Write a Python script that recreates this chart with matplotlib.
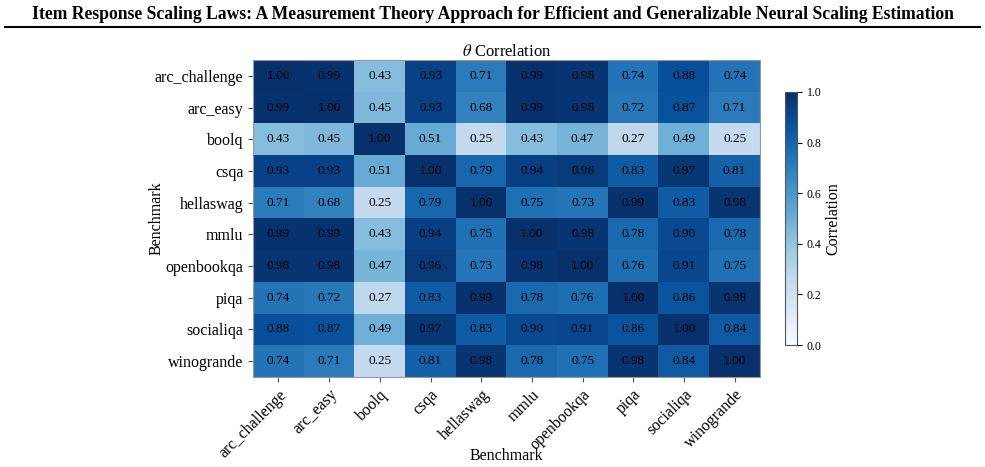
import numpy as np
import matplotlib
matplotlib.use("Agg")
import matplotlib.pyplot as plt
from matplotlib.lines import Line2D

plt.rcParams['font.family'] = ['Liberation Serif', 'DejaVu Serif']
plt.rcParams['mathtext.fontset'] = 'stix'

benchmarks = ["arc_challenge", "arc_easy", "boolq", "csqa", "hellaswag",
              "mmlu", "openbookqa", "piqa", "socialiqa", "winogrande"]

r_arc_challenge = [1.00, 0.99, 0.43, 0.93, 0.71, 0.99, 0.98, 0.74, 0.88, 0.74]
r_arc_easy      = [0.99, 1.00, 0.45, 0.93, 0.68, 0.99, 0.98, 0.72, 0.87, 0.71]
r_boolq         = [0.43, 0.45, 1.00, 0.51, 0.25, 0.43, 0.47, 0.27, 0.49, 0.25]
r_csqa          = [0.93, 0.93, 0.51, 1.00, 0.79, 0.94, 0.96, 0.83, 0.97, 0.81]
r_hellaswag     = [0.71, 0.68, 0.25, 0.79, 1.00, 0.75, 0.73, 0.99, 0.83, 0.98]
r_mmlu          = [0.99, 0.99, 0.43, 0.94, 0.75, 1.00, 0.98, 0.78, 0.90, 0.78]
r_openbookqa    = [0.98, 0.98, 0.47, 0.96, 0.73, 0.98, 1.00, 0.76, 0.91, 0.75]
r_piqa          = [0.74, 0.72, 0.27, 0.83, 0.99, 0.78, 0.76, 1.00, 0.86, 0.98]
r_socialiqa     = [0.88, 0.87, 0.49, 0.97, 0.83, 0.90, 0.91, 0.86, 1.00, 0.84]
r_winogrande    = [0.74, 0.71, 0.25, 0.81, 0.98, 0.78, 0.75, 0.98, 0.84, 1.00]

data = np.array([r_arc_challenge, r_arc_easy, r_boolq, r_csqa, r_hellaswag,
                 r_mmlu, r_openbookqa, r_piqa, r_socialiqa, r_winogrande])

fig = plt.figure(figsize=(9.85, 4.67), dpi=100)
ax = fig.add_axes([0.257, 0.1927, 0.5146, 0.6788])
im = ax.imshow(data, cmap='Blues', vmin=0, vmax=1, aspect='auto')

n = len(benchmarks)
for i in range(n):
    for j in range(n):
        ax.text(j, i, f"{data[i, j]:.2f}", ha='center', va='center',
                fontsize=9.5, color='black')

ax.set_xticks(range(n))
ax.set_yticks(range(n))
ax.set_xticklabels(benchmarks, rotation=45, ha='right', rotation_mode='anchor', fontsize=11.5)
ax.set_yticklabels(benchmarks, fontsize=11.5)
ax.set_xlabel("Benchmark", fontsize=11.5)
ax.xaxis.set_label_coords(0.5, -0.224)
ax.set_ylabel("Benchmark", fontsize=11.5)
ax.yaxis.set_label_coords(-0.174, 0.5)
ax.set_title(r"$\theta$ Correlation", fontsize=12, pad=3)
for s in ax.spines.values():
    s.set_color('#999999')
ax.tick_params(colors='black', color='#555555')

cax = fig.add_axes([0.797, 0.261, 0.0122, 0.542])
cb = fig.colorbar(im, cax=cax)
cb.ax.tick_params(labelsize=8.5)
cb.set_label("Correlation", fontsize=11.5, labelpad=3)
cb.outline.set_edgecolor('#555555')

title = fig.text(0.5, 0.968, "Item Response Scaling Laws: A Measurement Theory Approach for Efficient and Generalizable Neural Scaling Estimation",
                 ha='center', va='center', fontsize=15, fontweight='bold')
fig.canvas.draw()
w = title.get_window_extent().width
title.set_fontsize(15 * 925.0 / w)
fig.add_artist(Line2D([0.005, 0.995], [0.943, 0.943], transform=fig.transFigure,
                      color='black', lw=1.5))

fig.savefig("out.png", dpi=100)
